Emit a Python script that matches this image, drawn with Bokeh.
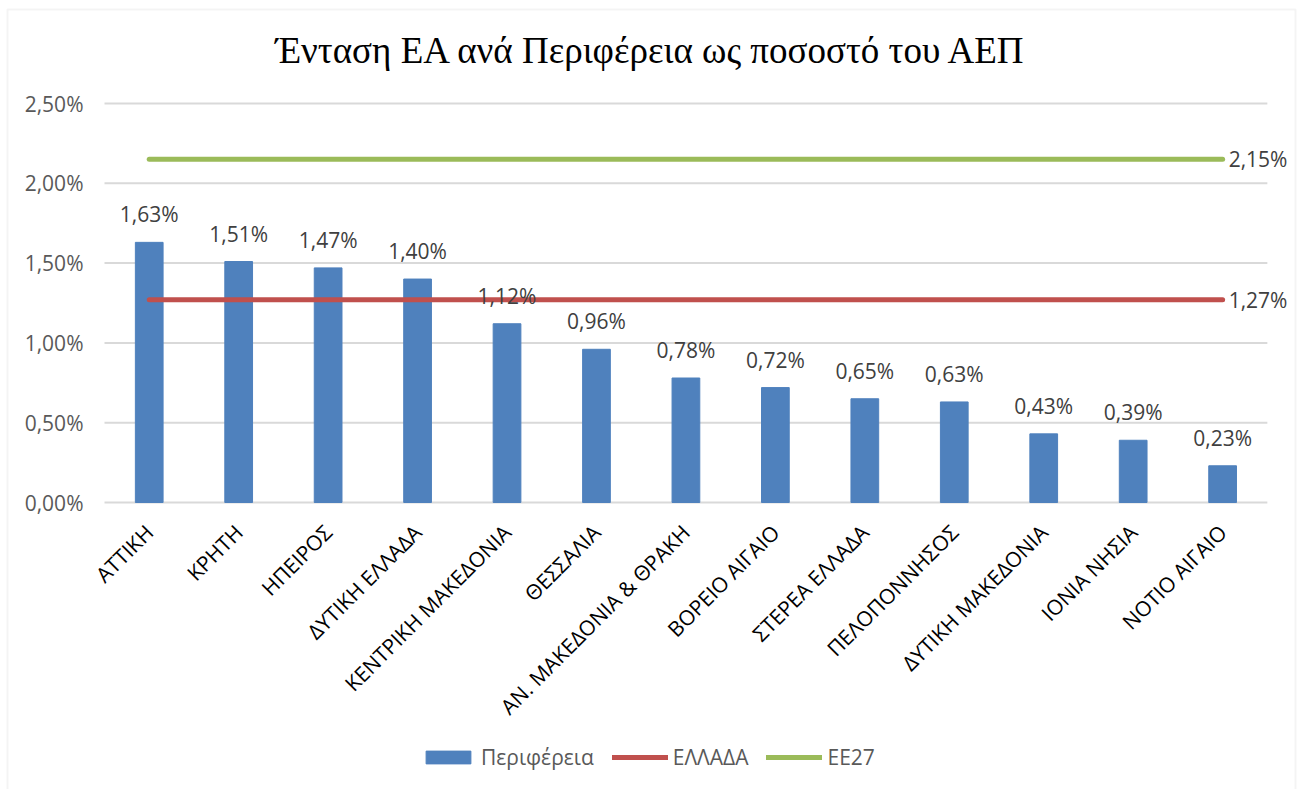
from bokeh.plotting import figure
from bokeh.models import (ColumnDataSource, FixedTicker, CustomJSTickFormatter, BoxAnnotation,
                          Label, Legend, LegendItem, Range1d)
from bokeh.core.properties import value
from bokeh.embed import file_html
from bokeh.resources import INLINE
import math

title = "Ένταση ΕΑ ανά Περιφέρεια ως ποσοστό του ΑΕΠ"
regions = ["ΑΤΤΙΚΗ", "ΚΡΗΤΗ", "ΗΠΕΙΡΟΣ", "ΔΥΤΙΚΗ ΕΛΛΑΔΑ", "ΚΕΝΤΡΙΚΗ ΜΑΚΕΔΟΝΙΑ", "ΘΕΣΣΑΛΙΑ",
           "ΑΝ. ΜΑΚΕΔΟΝΙΑ & ΘΡΑΚΗ", "ΒΟΡΕΙΟ ΑΙΓΑΙΟ", "ΣΤΕΡΕΑ ΕΛΛΑΔΑ", "ΠΕΛΟΠΟΝΝΗΣΟΣ",
           "ΔΥΤΙΚΗ ΜΑΚΕΔΟΝΙΑ", "ΙΟΝΙΑ ΝΗΣΙΑ", "ΝΟΤΙΟ ΑΙΓΑΙΟ"]
region_values = [1.63, 1.51, 1.47, 1.40, 1.12, 0.96, 0.78, 0.72, 0.65, 0.63, 0.43, 0.39, 0.23]
greece_value = 1.27
eu27_value = 2.15
y_ticks = [0.0, 0.5, 1.0, 1.5, 2.0, 2.5]
series_names = ["Περιφέρεια", "ΕΛΛΑΔΑ", "ΕΕ27"]

BLUE = "#4F81BD"
RED = "#C0504D"
GREEN = "#9BBB59"
GRID = "#D9D9D9"
FONT = "Open Sans"


def fmt(v):
    return f"{v:.2f}".replace(".", ",") + "%"


n = len(regions)
idx = list(range(n))

# layout (pixels)
W, H = 1302, 789
PLOT_LEFT = 104       # left edge of the category area
BAND = 89.45          # pixels per category
PX_PER_UNIT = 399 / y_ticks[-1]
ZERO_PX_FROM_TOP = 502

x_start = -0.5 - PLOT_LEFT / BAND
x_end = -0.5 + (W - PLOT_LEFT) / BAND
y_end = ZERO_PX_FROM_TOP / PX_PER_UNIT
y_start = -(H - ZERO_PX_FROM_TOP) / PX_PER_UNIT

p = figure(x_range=Range1d(x_start, x_end), y_range=Range1d(y_start, y_end),
           width=W, height=H, output_backend="svg", toolbar_location=None,
           min_border_left=0, min_border_right=0, min_border_top=0, min_border_bottom=0)
p.outline_line_color = None
p.background_fill_color = "white"
p.border_fill_color = "white"
p.xgrid.grid_line_color = None
p.ygrid.grid_line_color = None

# chart-area border
p.add_layout(BoxAnnotation(left=7, right=W - 7, bottom=-20, top=H - 9,
                           left_units="screen", right_units="screen",
                           bottom_units="screen", top_units="screen",
                           fill_color=None, fill_alpha=0, line_color=GRID, line_width=2))

# horizontal gridlines spanning the category area
p.segment(x0=[-0.5] * len(y_ticks), x1=[n - 0.5] * len(y_ticks), y0=y_ticks, y1=y_ticks,
          line_color=GRID, line_width=2)

src = ColumnDataSource(dict(x=idx, top=region_values, lbl=[fmt(v) for v in region_values]))
bars = p.vbar(x="x", top="top", width=0.31, source=src, fill_color=BLUE, line_color=BLUE)

gsrc = ColumnDataSource(dict(x=[idx[0], idx[-1]], y=[greece_value, greece_value]))
esrc = ColumnDataSource(dict(x=[idx[0], idx[-1]], y=[eu27_value, eu27_value]))
gl = p.line(x="x", y="y", source=gsrc, line_color=RED, line_width=5, line_cap="round")
el = p.line(x="x", y="y", source=esrc, line_color=GREEN, line_width=5, line_cap="round")

p.text(x="x", y="top", text="lbl", source=src, text_align="center", text_baseline="bottom",
       y_offset=-14, text_font=value(FONT), text_font_size="21px", text_color="#404040")
p.text(x=[idx[-1], idx[-1]], y=[greece_value, eu27_value],
       text=[fmt(greece_value), fmt(eu27_value)], x_offset=6,
       text_baseline="middle", text_font=value(FONT), text_font_size="21px", text_color="#404040")

p.yaxis.fixed_location = -0.5
p.yaxis.ticker = FixedTicker(ticks=y_ticks)
p.yaxis.formatter = CustomJSTickFormatter(code="return tick.toFixed(2).replace('.', ',') + '%';")
p.yaxis.axis_line_color = None
p.yaxis.major_tick_line_color = None
p.yaxis.minor_tick_line_color = None
p.yaxis.major_label_text_font = FONT
p.yaxis.major_label_text_font_size = "21px"
p.yaxis.major_label_text_color = "#595959"
p.yaxis.major_label_standoff = 15

p.xaxis.fixed_location = 0
p.xaxis.ticker = FixedTicker(ticks=idx)
p.xaxis.formatter = CustomJSTickFormatter(args=dict(labels=regions),
                                          code="return labels[Math.round(tick)] || '';")
p.xaxis.axis_line_color = None
p.xaxis.major_tick_line_color = None
p.xaxis.minor_tick_line_color = None
p.xaxis.major_label_orientation = math.pi / 4
p.xaxis.major_label_text_font = FONT
p.xaxis.major_label_text_font_size = "21px"
p.xaxis.major_label_text_color = "#000000"
p.xaxis.major_label_standoff = 20

p.add_layout(Label(x=651, y=H - 50, x_units="screen", y_units="screen", text=title,
                   text_align="center", text_baseline="middle", text_font="Liberation Serif",
                   text_font_size="37px", text_color="#000000"))

legend = Legend(items=[LegendItem(label=series_names[0], renderers=[bars]),
                       LegendItem(label=series_names[1], renderers=[gl]),
                       LegendItem(label=series_names[2], renderers=[el])],
                orientation="horizontal", location=(420, 18), border_line_color=None,
                background_fill_alpha=0, padding=0, margin=0, spacing=18,
                glyph_width=56, glyph_height=16, label_standoff=5,
                label_text_font=FONT, label_text_font_size="21px", label_text_color="#595959")
p.add_layout(legend)

open("out.html", "w").write(file_html(p, INLINE))
